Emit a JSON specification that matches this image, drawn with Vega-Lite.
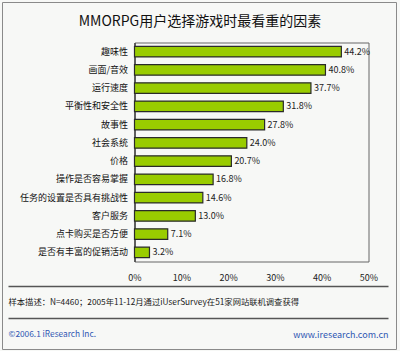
{
  "$schema": "https://vega.github.io/schema/vega-lite/v6.json",
  "background": "#f7f8f6",
  "padding": {"left": 1.5, "top": 1.5, "right": 0, "bottom": 0},
  "bounds": "flush",
  "spacing": 25,
  "config": {"view": {"stroke": null}, "font": "Noto Sans CJK SC"},
  "vconcat": [
    {
      "width": 234,
      "height": 219,
      "view": {"stroke": "#666", "strokeWidth": 1},
      "layer": [
        {
          "data": {"values": [{"frame": "outer"}]},
          "mark": {"type": "rect", "filled": false, "color": "#8a8a8a", "strokeWidth": 1},
          "encoding": {
            "x": {"datum": "left", "type": "nominal", "scale": {"type": "point", "domain": ["left", "right"], "range": [-132, 262], "padding": 0},
              "axis": {"orient": "top", "title": "MMORPG用户选择游戏时最看重的因素", "titleFontSize": 14, "titleFontWeight": "normal", "titleColor": "#111", "titlePadding": 14, "labels": false, "ticks": false, "domain": false, "grid": false, "minExtent": 0}},
            "x2": {"datum": "right"},
            "y": {"datum": "top", "type": "nominal", "scale": {"type": "point", "domain": ["top", "bottom"], "range": [-40, 307], "padding": 0}, "axis": null},
            "y2": {"datum": "bottom"}
          }
        },
        {
          "data": {"values": [
            {"factor": "趣味性", "pct": 0.442},
            {"factor": "画面/音效", "pct": 0.408},
            {"factor": "运行速度", "pct": 0.377},
            {"factor": "平衡性和安全性", "pct": 0.318},
            {"factor": "故事性", "pct": 0.278},
            {"factor": "社会系统", "pct": 0.240},
            {"factor": "价格", "pct": 0.207},
            {"factor": "操作是否容易掌握", "pct": 0.168},
            {"factor": "任务的设置是否具有挑战性", "pct": 0.146},
            {"factor": "客户服务", "pct": 0.130},
            {"factor": "点卡购买是否方便", "pct": 0.071},
            {"factor": "是否有丰富的促销活动", "pct": 0.032}
          ]},
          "encoding": {
            "y": {"field": "factor", "type": "nominal", "sort": null, "scale": {"paddingInner": 0.42, "paddingOuter": 0.21},
              "axis": {"title": null, "ticks": false, "labelPadding": 7, "labelFontSize": 9, "labelColor": "#111", "domainColor": "#444", "domainWidth": 1.5, "labelLimit": 200}},
            "x": {"field": "pct", "type": "quantitative", "scale": {"domain": [0, 0.5]},
              "axis": {"title": null, "values": [0, 0.1, 0.2, 0.3, 0.4, 0.5], "format": ".0%", "ticks": false, "domain": false, "gridColor": "#cfcfcf", "labelFontSize": 9, "labelColor": "#222", "labelPadding": 12, "labelFlush": false}}
          },
          "layer": [
            {"mark": {"type": "bar", "color": "#99cc00", "stroke": "#2a2a2a", "strokeWidth": 1.2}},
            {
              "mark": {"type": "text", "align": "left", "baseline": "middle", "dx": 3, "fontSize": 9, "color": "#222"},
              "encoding": {"text": {"field": "pct", "type": "quantitative", "format": ".1%"}}
            }
          ]
        }
      ],
      "resolve": {"scale": {"x": "independent", "y": "independent"}, "axis": {"x": "independent", "y": "independent"}}
    },
    {
      "width": 254,
      "height": 48,
      "data": {"values": [
        {"row": "line1", "kind": "line"},
        {"row": "sample", "kind": "text", "side": "left", "text": "样本描述：N=4460；2005年11-12月通过iUserSurvey在51家网站联机调查获得"},
        {"row": "line2", "kind": "line"},
        {"row": "footer", "kind": "text", "side": "left", "text": "©2006.1 iResearch Inc."},
        {"row": "footer", "kind": "text", "side": "right", "text": "www.iresearch.com.cn"}
      ]},
      "encoding": {
        "y": {"field": "row", "type": "nominal", "scale": {"type": "point", "domain": ["line1", "sample", "line2", "footer"], "padding": 0}, "axis": null}
      },
      "layer": [
        {
          "transform": [{"filter": "datum.kind == 'line'"}],
          "mark": {"type": "rule", "color": "#555", "strokeWidth": 1.5},
          "encoding": {
            "x": {"datum": "left", "type": "nominal", "scale": {"type": "point", "domain": ["left", "right"], "range": [-126, 254], "padding": 0}, "axis": null},
            "x2": {"datum": "right"}
          }
        },
        {
          "transform": [{"filter": "datum.kind == 'text' && datum.side == 'left'"}],
          "mark": {"type": "text", "align": "left", "baseline": "middle", "fontSize": 8.3},
          "encoding": {
            "x": {"field": "side", "type": "nominal"},
            "text": {"field": "text"},
            "color": {"field": "row", "type": "nominal", "scale": {"domain": ["sample", "footer"], "range": ["#1a1a1a", "#2f57b3"]}, "legend": null}
          }
        },
        {
          "transform": [{"filter": "datum.kind == 'text' && datum.side == 'right'"}],
          "mark": {"type": "text", "align": "right", "baseline": "middle", "fontSize": 9},
          "encoding": {
            "x": {"field": "side", "type": "nominal"},
            "text": {"field": "text"},
            "color": {"field": "row", "type": "nominal", "legend": null}
          }
        }
      ]
    }
  ]
}
